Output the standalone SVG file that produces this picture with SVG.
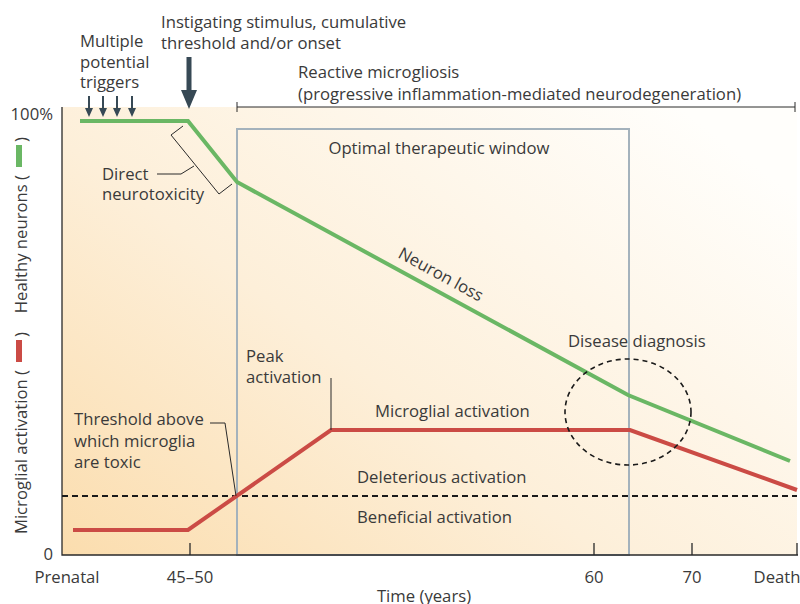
<svg xmlns="http://www.w3.org/2000/svg" width="800" height="604" viewBox="0 0 800 604">
<defs>
<linearGradient id="bg" x1="0" y1="1" x2="1" y2="0.2">
<stop offset="0" stop-color="#fbddae"/>
<stop offset="0.45" stop-color="#fdefd9"/>
<stop offset="1" stop-color="#fffefb"/>
</linearGradient>
</defs>
<style>
text{font-family:"Open Sans","Liberation Sans",sans-serif;font-size:16.7px;fill:#3a3a3a}
.ax{stroke:#2a2a2a;stroke-width:1.3;fill:none}
.thin{stroke:#2a2a2a;stroke-width:1;fill:none}
.green{stroke:#6ab764;stroke-width:4;fill:none;stroke-linejoin:miter}
.red{stroke:#cb4b45;stroke-width:4;fill:none}
.win{stroke:#a4b2bc;stroke-width:2;fill:none}
.dash{stroke:#1a1a1a;stroke-width:2.2;stroke-dasharray:6 4;fill:none}
.arr{fill:#374955}
</style>
<rect x="62" y="107" width="735" height="448" fill="url(#bg)"/>

<g id="window">
<rect class="win" x="237" y="129" width="392" height="426"/>
<text x="439" y="154" text-anchor="middle">Optimal therapeutic window</text>
</g>

<g id="axes">
<path class="ax" d="M62,107 V555 H798"/>
<path class="ax" d="M190,543 V555 M594,543 V555 M692,543 V555 M797,543 V555"/>
<text x="53" y="120" text-anchor="end">100%</text>
<text x="53" y="560" text-anchor="end">0</text>
<text x="67" y="583" text-anchor="middle">Prenatal</text>
<text x="190" y="583" text-anchor="middle">45–50</text>
<text x="594" y="583" text-anchor="middle">60</text>
<text x="692" y="583" text-anchor="middle">70</text>
<text x="777" y="583" text-anchor="middle">Death</text>
<text x="424" y="602" text-anchor="middle">Time (years)</text>
</g>

<g id="ylabel">
<text transform="translate(27,175) rotate(-90)" text-anchor="end">Healthy neurons (</text>
<text transform="translate(27,142) rotate(-90)">)</text>
<rect x="16" y="145" width="6" height="22" fill="#6ab764"/>
<text transform="translate(27,370) rotate(-90)" text-anchor="end">Microglial activation (</text>
<text transform="translate(27,337) rotate(-90)">)</text>
<rect x="16" y="340" width="6" height="22" fill="#cb4b45"/>
</g>

<g id="threshold">
<path class="dash" d="M62,496 H797"/>
<text x="357" y="483">Deleterious activation</text>
<text x="357" y="523">Beneficial activation</text>
</g>

<g id="neurons">
<path class="green" d="M80,121 H188 L237,182 L628,395 L790,461"/>
<text transform="translate(397,257) rotate(28.6)">Neuron loss</text>
</g>

<g id="microglia">
<path class="red" d="M73,530 H188 L331,430 H630 L797,490"/>
<text x="375" y="417">Microglial activation</text>
</g>

<g id="diagnosis">
<ellipse cx="628" cy="412" rx="63" ry="53" fill="none" stroke="#1a1a1a" stroke-width="1.6" stroke-dasharray="5 4"/>
<text x="568" y="347">Disease diagnosis</text>
</g>

<g id="microgliosis">
<path class="thin" d="M237,107 H795 M237,102 V112 M795,102 V112"/>
<text x="298" y="78">Reactive microgliosis</text>
<text x="298" y="100">(progressive inflammation-mediated neurodegeneration)</text>
</g>

<g id="triggers">
<text x="80" y="47">Multiple</text>
<text x="80" y="68">potential</text>
<text x="80" y="88">triggers</text>
<path class="arr" d="M88,96 H90 V108 H93 L89,117 L85,108 H88 Z"/>
<path class="arr" d="M102,96 H104 V108 H107 L103,117 L99,108 H102 Z"/>
<path class="arr" d="M116,96 H118 V108 H121 L117,117 L113,108 H116 Z"/>
<path class="arr" d="M131,96 H133 V108 H136 L132,117 L128,108 H131 Z"/>
</g>

<g id="stimulus">
<text x="161" y="28">Instigating stimulus, cumulative</text>
<text x="161" y="49">threshold and/or onset</text>
<path class="arr" d="M186.5,57 H191.5 V90 H197 L189,109 L181,90 H186.5 Z"/>
</g>

<g id="connectors">
<path class="thin" d="M183,126 L171,135 L219,194 L232,184"/>
<path class="thin" d="M157,174 H181 L194,166"/>
<path class="thin" d="M210,423 H225 L236,496"/>
<path class="thin" d="M331,378 V430"/>
</g>

<g id="labels">
<text x="102" y="180">Direct</text>
<text x="102" y="200">neurotoxicity</text>
<text x="74" y="425">Threshold above</text>
<text x="74" y="447">which microglia</text>
<text x="74" y="468">are toxic</text>
<text x="246" y="362">Peak</text>
<text x="246" y="383">activation</text>
</g>
</svg>
